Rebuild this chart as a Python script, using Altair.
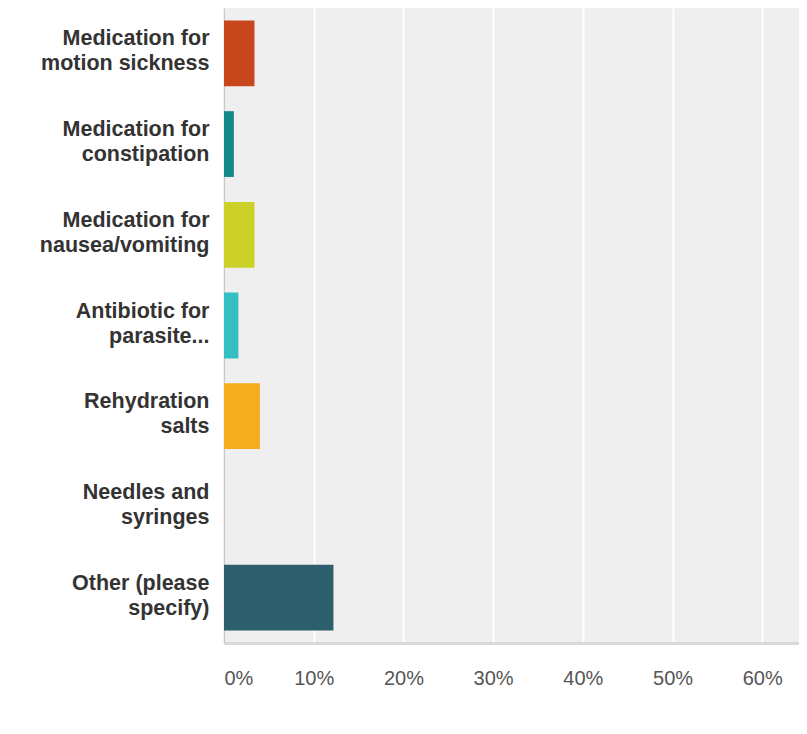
import altair as alt
import pandas as pd

categories = [
    "Medication for\nmotion sickness",
    "Medication for\nconstipation",
    "Medication for\nnausea/vomiting",
    "Antibiotic for\nparasite...",
    "Rehydration\nsalts",
    "Needles and\nsyringes",
    "Other (please\nspecify)",
]
values_pct = [3.4, 1.1, 3.4, 1.6, 4.0, 0.0, 12.2]
bar_colors = ["#c8461c", "#13898a", "#ccd12a", "#34bfc2", "#f5ad20", "#8c8c8c", "#2d5e6b"]
tick_values = [0, 0.1, 0.2, 0.3, 0.4, 0.5, 0.6]

df = pd.DataFrame({"cat": categories, "value": [v / 100 for v in values_pct]})

chart = (
    alt.Chart(df)
    .mark_bar()
    .encode(
        y=alt.Y(
            "cat:N",
            sort=categories,
            scale=alt.Scale(paddingInner=0.275, paddingOuter=0.1375),
            axis=alt.Axis(
                title=None,
                labelExpr="split(datum.label, '\\n')",
                labelFont="Liberation Sans",
                labelFontWeight="bold",
                labelFontSize=21.5,
                labelLineHeight=25,
                labelColor="#333333",
                labelPadding=15,
                labelOffset=-14,
                labelLimit=400,
                ticks=False,
                grid=False,
                domainColor="#c8c8c8",
                domainWidth=1.5,
            ),
        ),
        x=alt.X(
            "value:Q",
            scale=alt.Scale(domain=[0, 0.641], nice=False),
            axis=alt.Axis(
                title=None,
                values=tick_values,
                format=".0%",
                labelFont="Liberation Sans",
                labelFontSize=20,
                labelColor="#555555",
                labelPadding=25,
                labelFlush=True,
                ticks=False,
                grid=True,
                gridColor="#ffffff",
                gridWidth=2,
                domainColor="#d9d9d9",
                domainWidth=3,
            ),
        ),
        color=alt.Color(
            "cat:N",
            scale=alt.Scale(domain=categories, range=bar_colors),
            legend=None,
        ),
    )
    .properties(
        width=575,
        height=635,
        autosize=alt.AutoSizeParams(type="none"),
        padding={"left": 216, "top": 0, "right": 0, "bottom": 60},
        background="#ffffff",
    )
    .configure_view(fill="#efefef", strokeWidth=0)
)

chart.save("out.html", embed_options={"renderer": "svg", "actions": False})
